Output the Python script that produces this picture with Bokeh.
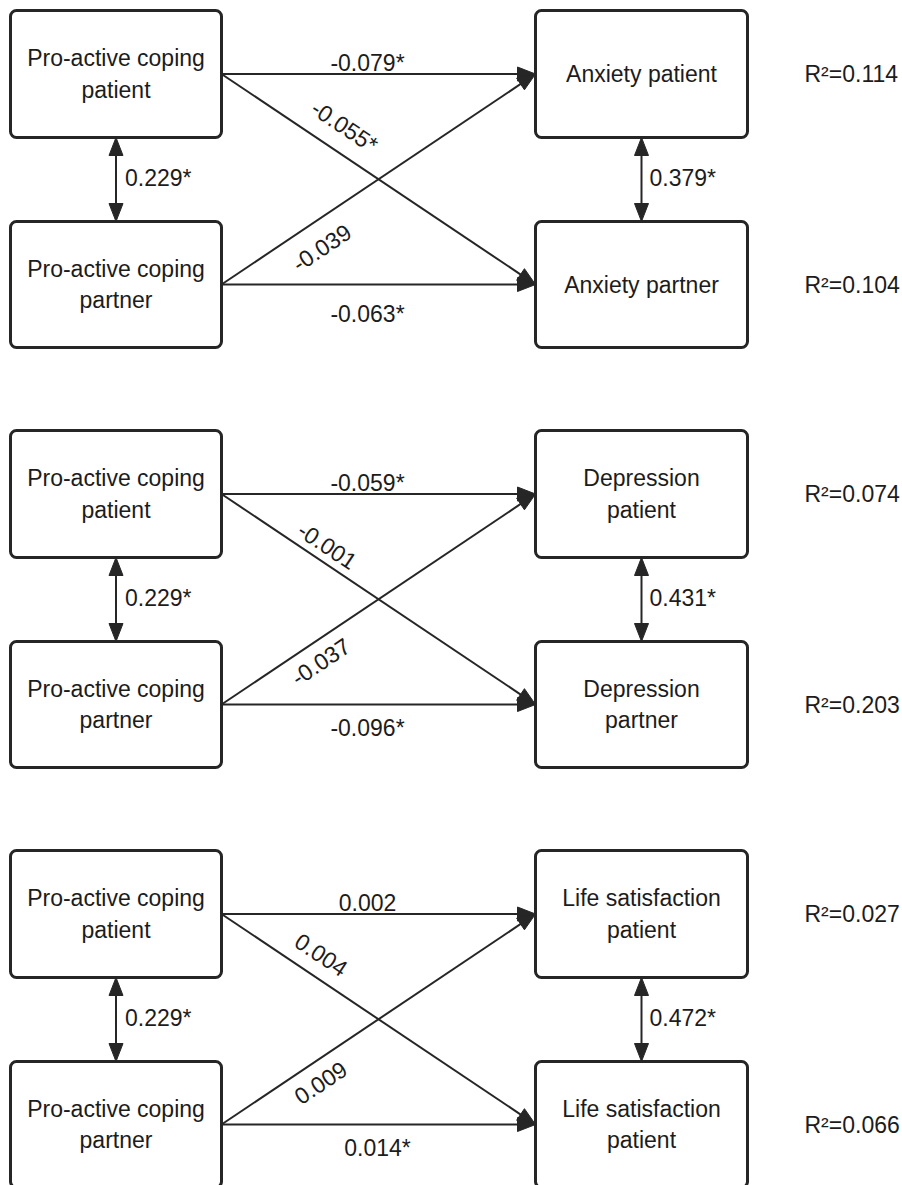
import math
from bokeh.plotting import figure
from bokeh.models import Range1d
from bokeh.core.properties import value
from bokeh.embed import file_html
from bokeh.resources import INLINE

# ---------------- data ----------------
predictor_labels = ["Pro-active coping\npatient", "Pro-active coping\npartner"]
outcome_patient = ["Anxiety patient", "Depression\npatient", "Life satisfaction\npatient"]
outcome_partner = ["Anxiety partner", "Depression\npartner", "Life satisfaction\npatient"]
coef_patient_patient = ["-0.079*", "-0.059*", "0.002"]
coef_patient_partner = ["-0.055*", "-0.001", "0.004"]
coef_partner_patient = ["-0.039", "-0.037", "0.009"]
coef_partner_partner = ["-0.063*", "-0.096*", "0.014*"]
cov_predictors = ["0.229*", "0.229*", "0.229*"]
cov_outcomes = ["0.379*", "0.431*", "0.472*"]
r2_patient = ["0.114", "0.074", "0.027"]
r2_partner = ["0.104", "0.203", "0.066"]

# ---------------- layout (pixel coordinates) ----------------
panel_offsets = [0, 420, 840]
LX0, LX1 = 10, 221
RX0, RX1 = 535, 747
TY0, TY1 = 10, 137
BY0, BY1 = 221, 347
# label positions relative to panel offset
lab_top = [(367, 62), (367, 62), (367, 62)]
lab_down = [(344, 126), (327, 125), (321, 114)]
lab_up = [(321, 247), (320, 241), (320, 242)]
lab_bot = [(367, 313), (367, 307), (377, 307)]
COV_Y = 177
R2_X = 804

W, H = 902, 1185
FONT = value("Liberation Sans")
INK = "#262626"
TXT = "#1c1c1c"

p = figure(width=W, height=H, x_range=Range1d(0, W), y_range=Range1d(H, 0),
           output_backend="svg", toolbar_location=None, min_border=0)
p.axis.visible = False
p.grid.visible = False
p.outline_line_color = None
p.background_fill_color = "white"
p.border_fill_color = "white"

HL, HW = 18, 14  # arrow head length / width


def head(tip, tail):
    dx, dy = tip[0] - tail[0], tip[1] - tail[1]
    d = math.hypot(dx, dy)
    ux, uy = dx / d, dy / d
    nx, ny = -uy, ux
    bx, by = tip[0] - HL * ux, tip[1] - HL * uy
    xs = [tip[0], bx + HW / 2 * nx, bx - HW / 2 * nx]
    ys = [tip[1], by + HW / 2 * ny, by - HW / 2 * ny]
    return xs, ys, (bx + 2 * ux, by + 2 * uy)


box_l, box_r, box_t, box_b = [], [], [], []
seg = {"x0": [], "y0": [], "x1": [], "y1": []}
hx, hy = [], []
texts = {"x": [], "y": [], "t": []}
lab = {"x": [], "y": [], "t": [], "a": []}
lft = {"x": [], "y": [], "t": []}


def add_arrow(a, b, both=False):
    xs, ys, base = head(b, a)
    hx.append(xs); hy.append(ys)
    start = a
    if both:
        xs2, ys2, base2 = head(a, b)
        hx.append(xs2); hy.append(ys2)
        start = base2
    seg["x0"].append(start[0]); seg["y0"].append(start[1])
    seg["x1"].append(base[0]); seg["y1"].append(base[1])


for i, off in enumerate(panel_offsets):
    ty0, ty1, by0, by1 = TY0 + off, TY1 + off, BY0 + off, BY1 + off
    tcy, bcy = (ty0 + ty1) / 2, (by0 + by1) / 2
    lcx, rcx = (LX0 + LX1) / 2, (RX0 + RX1) / 2
    for (x0, x1) in [(LX0, LX1), (RX0, RX1)]:
        for (y0, y1) in [(ty0, ty1), (by0, by1)]:
            box_l.append(x0); box_r.append(x1); box_t.append(y0); box_b.append(y1)
    # box texts
    for x, y, t in [(lcx, tcy, predictor_labels[0]), (lcx, bcy, predictor_labels[1]),
                    (rcx, tcy, outcome_patient[i]), (rcx, bcy, outcome_partner[i])]:
        texts["x"].append(x); texts["y"].append(y); texts["t"].append(t)
    # regression paths
    add_arrow((LX1, tcy), (RX0, tcy))
    add_arrow((LX1, tcy), (RX0, bcy))
    add_arrow((LX1, bcy), (RX0, tcy))
    add_arrow((LX1, bcy), (RX0, bcy))
    # covariances
    add_arrow((lcx, ty1), (lcx, by0), both=True)
    add_arrow((rcx, ty1), (rcx, by0), both=True)
    slope_ang = math.atan2(bcy - tcy, RX0 - LX1)
    for (pos, t, a) in [(lab_top[i], coef_patient_patient[i], 0.0),
                        (lab_down[i], coef_patient_partner[i], -slope_ang),
                        (lab_up[i], coef_partner_patient[i], slope_ang),
                        (lab_bot[i], coef_partner_partner[i], 0.0)]:
        lab["x"].append(pos[0]); lab["y"].append(pos[1] + off); lab["t"].append(t); lab["a"].append(a)
    for x, y, t in [(lcx + 9, COV_Y + off, cov_predictors[i]),
                    (rcx + 8, COV_Y + off, cov_outcomes[i]),
                    (R2_X, tcy, "R\u00b2=" + r2_patient[i]),
                    (R2_X, bcy, "R\u00b2=" + r2_partner[i])]:
        lft["x"].append(x); lft["y"].append(y); lft["t"].append(t)

p.quad(left=box_l, right=box_r, top=box_t, bottom=box_b, fill_color="white",
       line_color=INK, line_width=3, border_radius=6)
p.segment(x0=seg["x0"], y0=seg["y0"], x1=seg["x1"], y1=seg["y1"], line_color=INK, line_width=2)
p.patches(xs=hx, ys=hy, fill_color=INK, line_color=INK, line_width=1)
p.text(x=texts["x"], y=texts["y"], text=texts["t"], text_align="center", text_baseline="middle",
       text_font=FONT, text_font_size="23px", text_color=TXT, text_line_height=1.2)
p.text(x=lab["x"], y=lab["y"], text=lab["t"], angle=lab["a"], text_align="center",
       text_baseline="middle", text_font=FONT, text_font_size="23px", text_color=TXT)
p.text(x=lft["x"], y=lft["y"], text=lft["t"], text_align="left", text_baseline="middle",
       text_font=FONT, text_font_size="23px", text_color=TXT)

open("out.html", "w").write(file_html(p, INLINE))
